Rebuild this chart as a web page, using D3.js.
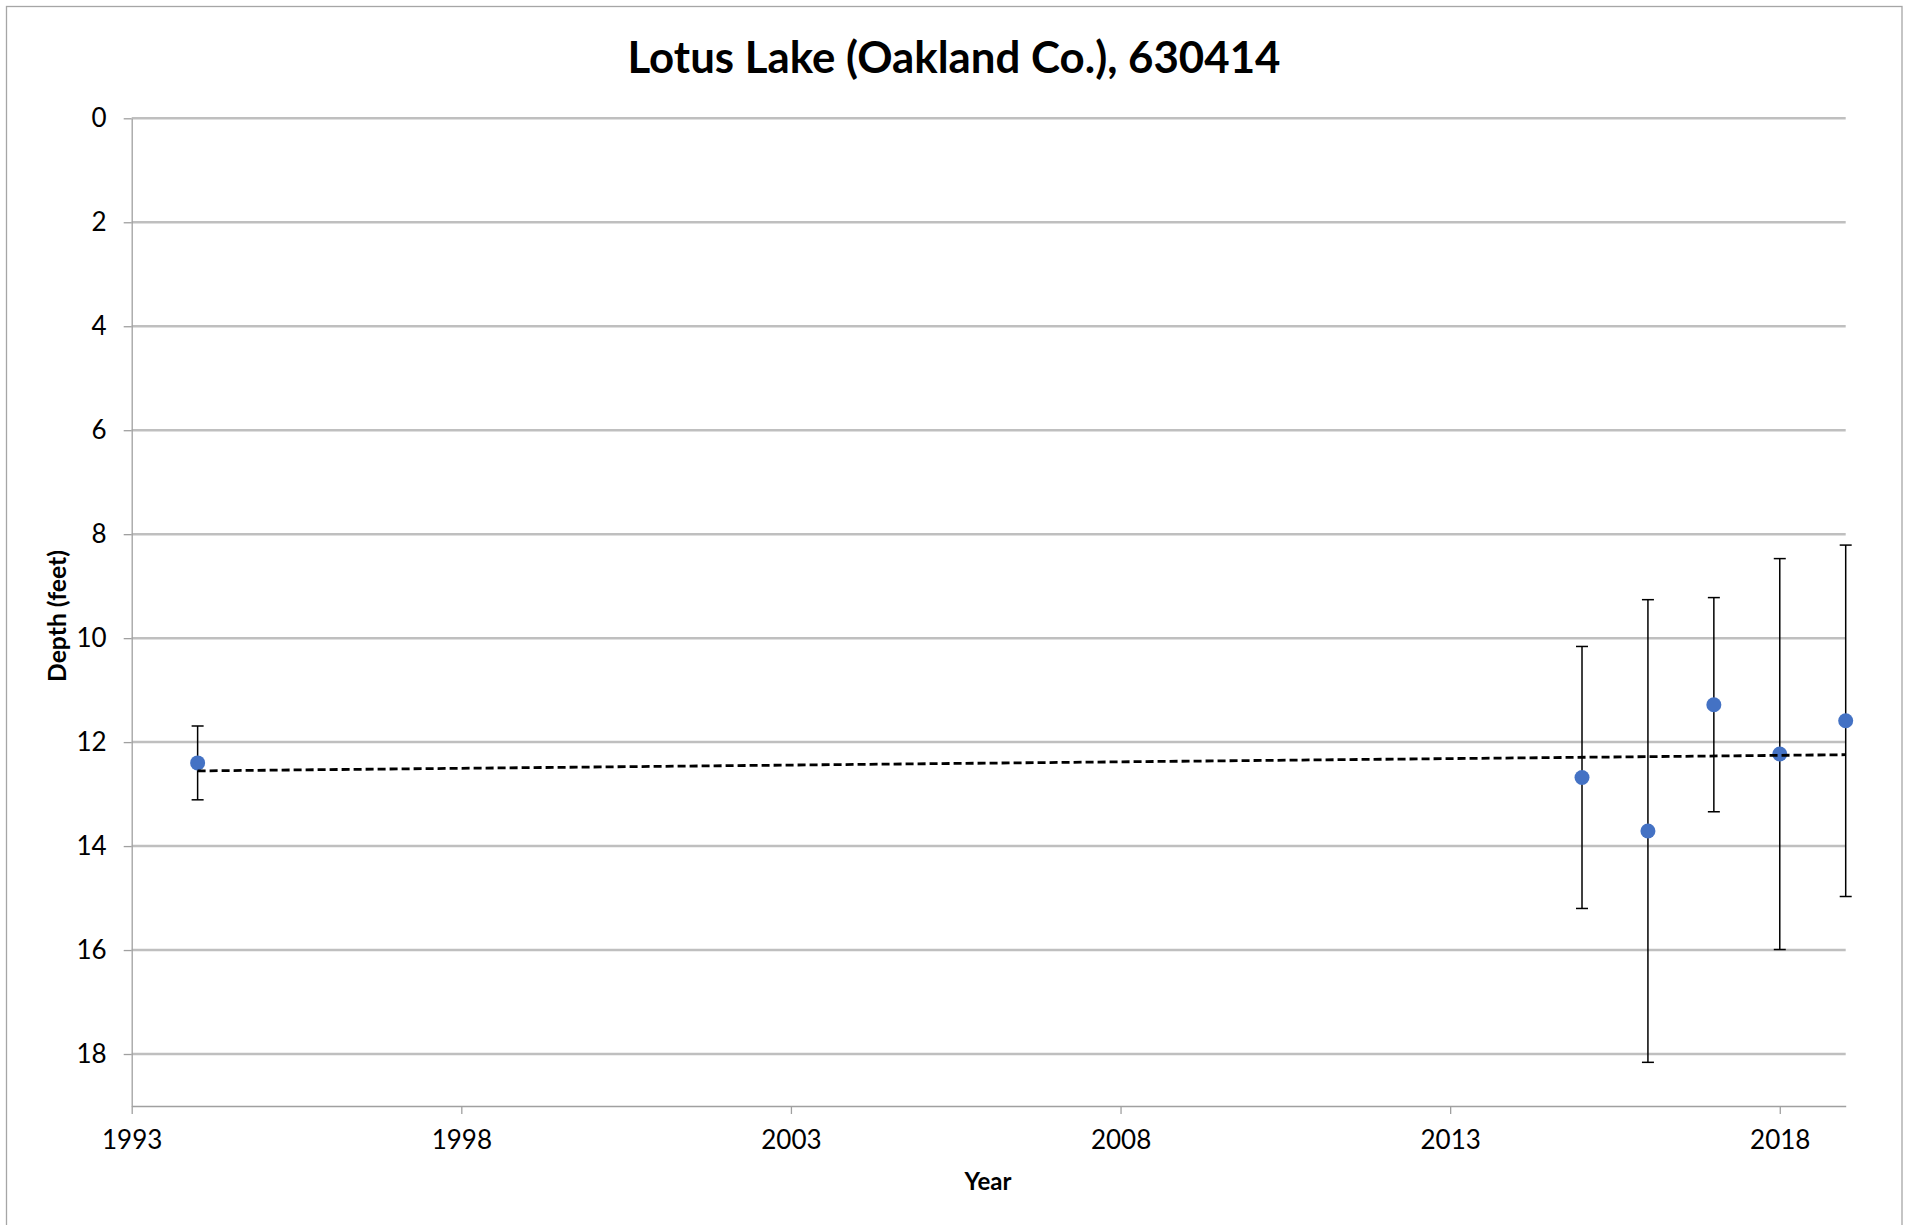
<!DOCTYPE html>
<html>
<head>
<meta charset="utf-8">
<script src="https://cdn.jsdelivr.net/npm/d3@7"></script>
<style>
  body { margin: 0; background: #fff; }
  text { font-family: Lato, "Open Sans", sans-serif; fill: #000; }
</style>
</head>
<body>
<svg id="chart" width="1906" height="1225"></svg>
<script>
// Lotus Lake depth readings (mean +/- sd)
const years = [1994, 2015, 2016, 2017, 2018, 2019];
const depths = [12.40, 12.68, 13.71, 11.28, 12.23, 11.59];
const errors = [0.71, 2.52, 4.45, 2.06, 3.76, 3.38];
const xTicks = [1993, 1998, 2003, 2008, 2013, 2018];
const yTicks = [0, 2, 4, 6, 8, 10, 12, 14, 16, 18];

const svg = d3.select('#chart');

const data = years.map((y, i) => ({year: y, depth: depths[i], err: errors[i]}));

const plot = {left: 131.7, right: 1845.7, top: 118.3, bottom: 1106};

const xScale = d3.scaleLinear().domain([1993, 2019]).range([plot.left, plot.right]);
const yScale = d3.scaleLinear().domain([0, 19]).range([plot.top, plot.bottom]);

// chart border
svg.append('rect')
    .attr('x', 6.5).attr('y', 6.5)
    .attr('width', 1895.5).attr('height', 1240)
    .attr('fill', 'white')
    .attr('stroke', '#a6a6a6')
    .attr('stroke-width', 1.3);

// gridlines
svg.append('g').selectAll('line').data(yTicks)
    .enter().append('line')
        .attr('x1', plot.left).attr('x2', plot.right)
        .attr('y1', d => yScale(d)).attr('y2', d => yScale(d))
        .attr('stroke', '#bfbfbf')
        .attr('stroke-width', 2.5);

// axes
const yAxisG = svg.append('g')
    .attr('transform', `translate(${plot.left},0)`)
    .call(d3.axisLeft(yScale).tickValues(yTicks).tickSize(8).tickPadding(17).tickSizeOuter(0));

const xAxisG = svg.append('g')
    .attr('transform', `translate(0,${plot.bottom})`)
    .call(d3.axisBottom(xScale).tickValues(xTicks).tickFormat(d3.format('d'))
        .tickSize(8).tickPadding(17).tickSizeOuter(0));

[yAxisG, xAxisG].forEach(g => {
    g.select('.domain').attr('stroke', '#a0a0a0').attr('stroke-width', 1.3);
    g.selectAll('.tick line').attr('stroke', '#a0a0a0').attr('stroke-width', 1.3);
    g.selectAll('.tick text')
        .attr('font-family', 'Lato, sans-serif')
        .attr('font-size', 26)
        .attr('fill', '#000');
});

// error bars
const capW = 6;
const eb = svg.append('g').selectAll('g').data(data).enter().append('g')
    .attr('stroke', '#000').attr('stroke-width', 1.5);
eb.append('line')
    .attr('x1', d => xScale(d.year)).attr('x2', d => xScale(d.year))
    .attr('y1', d => yScale(d.depth - d.err)).attr('y2', d => yScale(d.depth + d.err));
eb.append('line')
    .attr('x1', d => xScale(d.year) - capW).attr('x2', d => xScale(d.year) + capW)
    .attr('y1', d => yScale(d.depth - d.err)).attr('y2', d => yScale(d.depth - d.err));
eb.append('line')
    .attr('x1', d => xScale(d.year) - capW).attr('x2', d => xScale(d.year) + capW)
    .attr('y1', d => yScale(d.depth + d.err)).attr('y2', d => yScale(d.depth + d.err));

// markers
svg.append('g').selectAll('circle').data(data)
    .enter().append('circle')
        .attr('cx', d => xScale(d.year))
        .attr('cy', d => yScale(d.depth))
        .attr('r', 7.5)
        .attr('fill', '#4472c4');

// linear trendline (least squares over the points)
const mx = d3.mean(years), my = d3.mean(depths);
const slope = d3.sum(years, (x, i) => (x - mx) * (depths[i] - my)) / d3.sum(years, x => (x - mx) ** 2);
const fit = x => my + slope * (x - mx);
const trendX = [d3.min(years), d3.max(years)];
svg.append('path')
    .datum(trendX)
    .attr('d', d3.line().x(d => xScale(d)).y(d => yScale(fit(d))))
    .attr('fill', 'none')
    .attr('stroke', '#000')
    .attr('stroke-width', 2.8)
    .attr('stroke-dasharray', '8,4');

// titles
svg.append('text')
    .attr('x', 954).attr('y', 73)
    .attr('text-anchor', 'middle')
    .attr('font-weight', 'bold')
    .attr('font-size', 44)
    .attr('textLength', 653)
    .attr('lengthAdjust', 'spacingAndGlyphs')
    .text('Lotus Lake (Oakland Co.), 630414');

svg.append('text')
    .attr('x', 988).attr('y', 1190)
    .attr('text-anchor', 'middle')
    .attr('font-weight', 'bold')
    .attr('font-size', 24)
    .text('Year');

svg.append('text')
    .attr('transform', 'translate(66,616) rotate(-90)')
    .attr('text-anchor', 'middle')
    .attr('font-weight', 'bold')
    .attr('font-size', 24)
    .attr('textLength', 132)
    .attr('lengthAdjust', 'spacingAndGlyphs')
    .text('Depth (feet)');
</script>
</body>
</html>
